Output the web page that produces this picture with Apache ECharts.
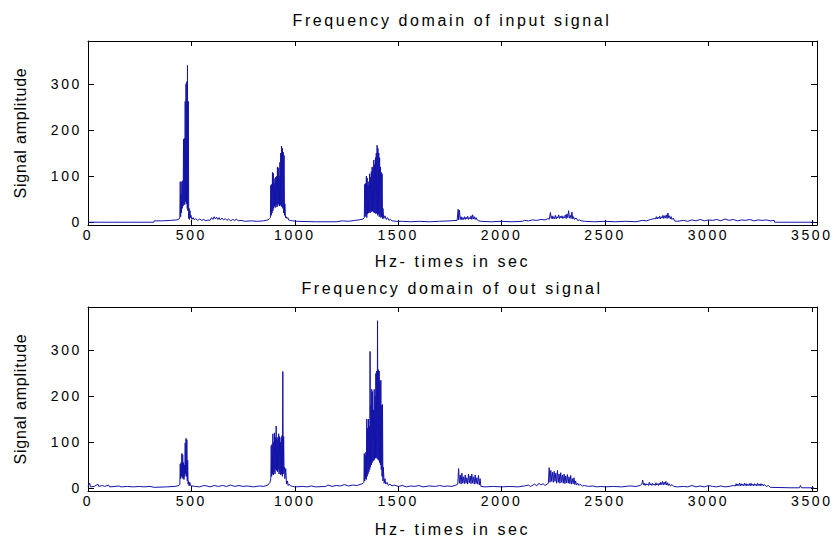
<!DOCTYPE html>
<html>
<head>
<meta charset="utf-8">
<script src="https://cdn.jsdelivr.net/npm/echarts@6/dist/echarts.min.js"></script>
<style>
  html, body { margin: 0; padding: 0; background: #fff; }
  #chart { width: 835px; height: 538px; }
  /* matlab-ish wide text */
  #chart svg text { letter-spacing: 2.6px; }
  #chart svg text[style*="Liberation"] { letter-spacing: 0.8px; }
</style>
</head>
<body>
<div id="chart"></div>
<script>
const chart = echarts.init(document.getElementById('chart'), null, { renderer: 'svg' })

const titles = ['Frequency domain of input signal', 'Frequency domain of out signal']
const xName = 'Hz- times in sec'
const yName = 'Signal amplitude'
const xTicks = [0, 500, 1000, 1500, 2000, 2500, 3000, 3500]
const yTicks = [0, 100, 200, 300]

// input spectrum
const inputHz = [0,60,120,200,280,318,320,360,400,430,440,444,
  446,448,450,452,454,456,458,460,462,464,466,468,470,472,474,476,478,480,481,483,485,487,489,491,493,495,498,
  502,508,514,520,530,540,550,560,570,580,590,598,604,610,616,622,628,634,640,648,656,664,672,680,690,700,710,718,726,740,760,790,820,850,870,878,
  882,884,886,888,890,892,894,896,898,900,902,904,906,908,910,912,914,916,918,920,922,924,926,928,930,932,934,936,938,940,942,944,946,948,950,952,955,958,962,966,970,978,990,
  1010,1100,1200,1230,1260,1290,1310,1330,
  1336,1338,1340,1342,1344,1346,1348,1350,1352,1354,1356,1358,1360,1362,1364,1366,1368,1370,1372,1374,1376,1378,1380,1382,1384,1386,1388,1390,1392,1394,1396,1398,1400,
  1402,1404,1406,1408,1410,1412,1414,1416,1418,1420,1422,1424,1426,1430,1436,1442,1448,1455,1462,1470,1490,1520,1560,1600,1650,1700,1750,1785,
  1790,1792,1796,1800,1804,1808,1812,1816,1820,1824,1828,1832,1836,1840,1844,1848,1852,1856,1860,1864,1868,1872,1876,1882,1890,1900,1950,2000,2050,2100,2110,2130,2150,2170,2190,2210,2225,
  2230,2236,2240,2244,2248,2252,2256,2260,2264,2268,2272,2276,2280,2284,2288,2292,2296,2300,2304,2308,2312,2316,2320,2324,2328,2332,2336,2340,2344,2348,2352,2360,2368,2376,2385,
  2400,2450,2500,2550,2600,2650,2680,2700,2720,2740,
  2744,2748,2752,2756,2760,2764,2768,2772,2776,2780,2784,2788,2792,2796,2800,2804,2808,2812,2816,2820,2824,2830,2836,2850,2880,2900,2920,2940,2960,2980,
  3000,3020,3040,3060,3080,3100,3120,3140,3160,3180,3200,3220,3240,3260,3280,3300,3318,3320,3400,3510]
const inputAmp = [0,0,0,0,0,0,3,3,4,5,7,9,
  88,12,60,20,88,30,90,35,180,40,182,38,262,45,300,40,305,30,340,25,262,8,30,6,25,10,15,
  6,10,5,8,4,7,4,6,3,5,4,10,6,12,7,11,6,10,5,9,5,8,4,7,3,6,4,7,3,4,2,3,2,3,5,8,
  10,80,15,82,20,108,25,106,30,85,35,95,32,98,38,100,33,120,36,118,40,100,35,130,38,150,35,165,33,160,30,152,20,145,15,40,10,12,8,10,5,4,3,
  2,1,1,3,2,4,5,7,
  10,82,12,84,15,100,10,96,18,80,20,88,22,105,20,98,25,110,22,120,25,118,23,135,20,125,22,140,18,150,20,167,15,
  160,18,150,12,140,15,120,10,108,12,105,8,30,8,14,6,10,4,6,3,2,2,1,2,1,2,3,4,
  28,5,26,6,12,5,10,6,12,6,11,7,13,6,10,7,14,6,16,7,12,6,10,5,3,2,1,2,1,2,4,3,5,4,6,5,8,
  6,21,8,14,7,12,8,15,7,12,9,16,8,13,9,14,8,12,9,16,8,18,10,25,9,15,8,22,7,12,6,9,4,5,3,
  2,1,2,1,2,1,4,3,6,8,
  7,12,7,11,8,13,7,12,9,15,8,14,9,16,8,20,9,14,7,12,6,9,3,2,4,2,5,3,6,3,
  5,4,6,3,7,4,6,3,5,4,6,3,5,4,5,3,4,0,0,0]

// output spectrum
const outputHz = [0,8,12,30,48,52,70,80,100,104,130,150,160,190,220,250,270,300,320,380,420,440,
  444,446,448,450,452,454,456,458,460,462,464,466,468,470,472,474,476,478,480,482,484,486,489,492,496,
  502,520,540,560,575,590,610,630,650,670,690,710,730,750,770,800,830,850,870,880,
  884,886,888,890,892,894,896,898,900,902,904,906,908,910,912,914,916,918,920,922,924,926,928,930,932,934,936,938,940,942,944,946,948,950,952,956,960,964,968,972,980,990,
  1000,1040,1060,1080,1100,1150,1160,1180,1200,1220,1240,1260,1280,1300,1320,1330,
  1334,1336,1338,1340,1342,1344,1346,1348,1350,1352,1354,1356,1358,1360,1362,1364,1366,1368,1370,1372,1374,1376,1378,1380,1382,1384,1386,1388,1390,1392,1394,1396,1398,1400,
  1402,1404,1406,1408,1410,1412,1414,1416,1418,1420,1422,1424,1426,1428,1432,1436,1440,1446,1452,1460,1470,1480,1500,1520,1540,1560,1580,1600,1620,1650,1680,1700,1720,1740,1760,1780,
  1788,1792,1796,1800,1804,1808,1812,1816,1820,1824,1828,1832,1836,1840,1844,1848,1852,1856,1860,1864,1868,1872,1876,1880,1884,1888,1892,1896,1900,1920,1960,
  2000,2040,2080,2110,2130,2140,2160,2170,2180,2190,2200,2210,2220,
  2226,2230,2234,2238,2242,2246,2250,2254,2258,2262,2266,2270,2274,2278,2282,2286,2290,2294,2298,2302,2306,2310,2314,2318,2322,2326,2330,2334,2338,2342,2346,2350,2354,2358,2362,2368,2374,2380,2390,
  2400,2420,2440,2460,2480,2500,2540,2580,2620,2650,2670,
  2678,2682,2686,2690,2694,2698,2702,2706,2710,2714,2718,2722,2726,2730,2734,2738,2742,2746,2750,2754,2758,2762,2766,2770,2774,2778,2782,2786,2790,2794,2798,
  2802,2806,2810,2816,2824,2832,2850,2880,2900,2920,2940,2960,2980,3000,3020,3040,3060,3080,3100,3120,
  3130,3134,3138,3142,3146,3150,3154,3158,3162,3166,3170,3174,3178,3182,3186,3190,3194,3198,3202,3206,3210,3214,3218,3222,3226,3230,3234,3238,3242,3246,3250,3254,3258,3262,3266,3270,3280,3290,
  3300,3400,3440,3445,3450,3510]
const outputAmp = [3,10,2,3,8,3,5,3,6,2,3,4,2,3,2,3,2,3,1,2,3,5,
  8,52,20,55,25,75,22,72,20,55,18,50,25,98,30,108,25,105,15,60,8,15,4,12,5,
  4,3,2,5,4,2,5,3,5,3,6,3,5,3,4,2,4,3,6,12,
  20,92,25,95,30,118,28,100,35,120,30,110,40,135,38,105,35,110,40,118,30,112,35,100,28,110,30,114,25,254,30,112,40,45,20,42,8,15,5,8,4,3,
  2,3,2,4,2,3,6,3,5,4,7,4,6,5,8,10,
  12,75,15,70,20,78,18,150,25,130,30,150,35,135,40,298,45,180,50,215,55,210,58,170,60,215,62,200,65,250,66,255,64,365,
  62,258,60,255,55,232,50,235,40,180,25,182,15,45,10,20,8,12,5,8,4,6,3,5,2,4,3,5,2,4,3,5,3,4,3,6,
  8,42,10,28,8,32,10,24,9,28,10,22,8,30,11,26,9,30,10,24,8,28,9,22,8,27,6,20,3,2,3,
  2,3,2,4,6,3,8,4,10,6,9,5,8,
  10,44,12,38,14,34,12,36,14,32,10,38,12,30,10,33,12,28,10,30,9,26,11,29,10,24,9,27,8,20,9,22,7,15,6,10,5,8,4,
  5,3,4,2,3,2,3,2,4,3,5,
  8,17,6,10,5,9,6,8,5,12,6,9,5,10,6,8,5,11,6,9,5,10,6,12,7,14,6,12,7,14,6,
  11,5,9,4,7,3,2,3,2,5,2,4,2,5,3,2,4,2,3,5,
  4,9,4,8,5,10,4,9,5,8,4,10,5,9,4,8,5,9,4,10,5,8,4,9,5,8,4,10,5,8,4,9,5,8,4,7,3,5,
  1,0,0,5,0,0]

const lineColor = '#1414a8'
const txt = { color: '#000', fontFamily: 'Arial', fontSize: 14 }
const plain = v => String(v)

const pair = (xs, ys) => xs.map((x, i) => [x, ys[i]])

function xAxes(gi) {
  return [{
    type: 'value', gridIndex: gi, min: 0, max: 3525, position: 'bottom',
    name: xName, nameLocation: 'middle', nameGap: gi ? 30 : 28,
    nameTextStyle: { color: '#000', fontFamily: 'Arial', fontSize: 16 },
    axisLine: { show: true, onZero: false, lineStyle: { color: '#000', width: 1 } },
    axisTick: { inside: true, length: 5, customValues: xTicks, lineStyle: { color: '#000' } },
    axisLabel: Object.assign({ margin: 3, customValues: xTicks, formatter: plain }, txt),
    splitLine: { show: false }
  }, {
    type: 'value', gridIndex: gi, min: 0, max: 3525, position: 'top',
    axisLine: { show: true, onZero: false, lineStyle: { color: '#000', width: 1 } },
    axisTick: { inside: true, length: 5, customValues: xTicks, lineStyle: { color: '#000' } },
    axisLabel: { show: false }, splitLine: { show: false }
  }]
}

function yAxes(gi, lo, hi) {
  return [{
    type: 'value', gridIndex: gi, min: lo, max: hi, position: 'left',
    name: yName, nameLocation: 'middle', nameGap: 60, nameRotate: 90,
    nameTextStyle: { color: '#000', fontFamily: 'Liberation Sans', fontSize: 16 },
    axisLine: { show: true, onZero: false, lineStyle: { color: '#000', width: 1 } },
    axisTick: { inside: true, length: 6, customValues: yTicks, lineStyle: { color: '#000' } },
    axisLabel: Object.assign({ margin: 6, customValues: yTicks, formatter: plain }, txt),
    splitLine: { show: false }
  }, {
    type: 'value', gridIndex: gi, min: lo, max: hi, position: 'right',
    axisLine: { show: true, onZero: false, lineStyle: { color: '#000', width: 1 } },
    axisTick: { inside: true, length: 6, customValues: yTicks, lineStyle: { color: '#000' } },
    axisLabel: { show: false }, splitLine: { show: false }
  }]
}

const option = {
  animation: false,
  backgroundColor: '#fff',
  title: [
    { text: titles[0], left: 452, top: 12, textAlign: 'center', padding: 0,
      textStyle: { color: '#000', fontFamily: 'Arial', fontSize: 16, fontWeight: 'normal' } },
    { text: titles[1], left: 452, top: 280, textAlign: 'center', padding: 0,
      textStyle: { color: '#000', fontFamily: 'Arial', fontSize: 16, fontWeight: 'normal' } }
  ],
  grid: [
    { left: 88, top: 41, width: 729, height: 184 },
    { left: 88, top: 307, width: 729, height: 185 }
  ],
  xAxis: [...xAxes(0), ...xAxes(1)],
  yAxis: [...yAxes(0, -6, 393), ...yAxes(1, -7, 395)],
  series: [{
    type: 'line', xAxisIndex: 0, yAxisIndex: 0, data: pair(inputHz, inputAmp),
    showSymbol: false, sampling: null, lineStyle: { color: lineColor, width: 1 }
  }, {
    type: 'line', xAxisIndex: 2, yAxisIndex: 2, data: pair(outputHz, outputAmp),
    showSymbol: false, sampling: null, lineStyle: { color: lineColor, width: 1 }
  }]
}

chart.setOption(option)
</script>
</body>
</html>
